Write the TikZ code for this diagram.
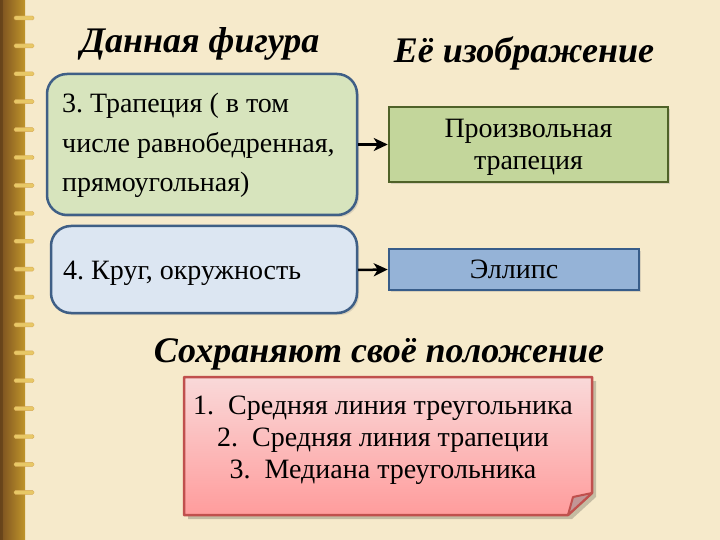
\documentclass[tikz,border=0pt]{standalone}
\usepackage{fontspec}
\setmainfont{Liberation Serif}
\newfontfamily\tnr{Liberation Serif}
\frenchspacing
\usetikzlibrary{arrows.meta,shadows}
\definecolor{bg}{HTML}{F6EACB}
\definecolor{spine}{HTML}{B07A35}
\definecolor{spinedark}{HTML}{7A5020}
\definecolor{ringc}{HTML}{E8C866}
\definecolor{boxAfill}{HTML}{D7E4BD}
\definecolor{boxBfill}{HTML}{DCE6F2}
\definecolor{rborder}{HTML}{3F5F86}
\definecolor{gfill}{HTML}{C3D69B}
\definecolor{gborder}{HTML}{4F6228}
\definecolor{bfill}{HTML}{95B3D7}
\definecolor{bborder}{HTML}{385D8A}
\definecolor{ptop}{HTML}{F9D9D9}
\definecolor{pbot}{HTML}{FF9C9C}
\definecolor{pborder}{HTML}{C0504D}
\tikzset{
  title/.style={font=\tnr\fontsize{36}{40}\selectfont\bfseries\itshape, inner sep=0pt},
  roundbox/.style={draw=rborder, line width=2.5pt, rounded corners=20pt, drop shadow={opacity=0.25, shadow xshift=2pt, shadow yshift=-2pt}},
  body/.style={font=\tnr\fontsize{28}{34}\selectfont, inner sep=0pt},
  flat/.style={line width=2.5pt, drop shadow={opacity=0.25, shadow xshift=2pt, shadow yshift=-2pt}},
  arr/.style={-{Stealth[length=14pt,width=13pt,inset=4pt]}, line width=2.5pt, black},
  ringst/.style={fill=ringc, draw=ringc!60!brown, line width=0.4pt, rounded corners=1.5pt}
}
\begin{document}
\begin{tikzpicture}[x=1pt,y=-1pt]
\useasboundingbox (0,0) rectangle (720,540);
\fill[bg] (0,0) rectangle (720,540);
% spine
\shade[left color=spinedark, right color=spine!80!yellow] (0,0) rectangle (25,540);
\fill[spinedark!70!black, opacity=0.5] (0,0) rectangle (3,540);
\foreach \i in {0,...,17}{
  \pgfmathsetmacro{\yy}{18+\i*27.9}
  \fill[ringst] (14,\yy-2) rectangle (34,\yy+2);
}
% titles
\node[title] (t1) at (200,44) {Данная фигура};
\node[title] (t2) at (524,53) {Её изображение};
\node[title] (t3) at (379,354) {Сохраняют своё положение};
% left boxes
\draw[roundbox, fill=boxAfill] (47,74) rectangle (357,215);
\node[body, anchor=west] (a1) at (62,105.5) {3. Трапеция ( в том};
\node[body, anchor=west] (a2) at (62,145.5) {числе равнобедренная,};
\node[body, anchor=west] (a3) at (62,184.5) {прямоугольная)};
\draw[roundbox, fill=boxBfill] (51,226) rectangle (357,313);
\node[body, anchor=west] (b1) at (63,273) {4. Круг, окружность};
\coordinate (aE) at (358,144.5);
\coordinate (bE) at (358,270);
% right boxes
\node[flat, draw=gborder, fill=gfill, minimum width=279pt, minimum height=75pt, inner sep=0pt] (g) at (528.5,144.5) {};
\node[align=center, font=\tnr\fontsize{28}{32}\selectfont, inner sep=0pt] (gt) at (528.5,147.5) {Произвольная\\трапеция};
\node[flat, draw=bborder, fill=bfill, minimum width=250pt, minimum height=41pt, font=\tnr\fontsize{28}{32}\selectfont, inner sep=0pt] (e) at (514,269.5) {Эллипс};
\draw[arr] (aE) -- (g.west);
\draw[arr] (bE) -- (e.west);
% pink note
\fill[black, opacity=0.2] (188,381) -- (596,381) -- (596,497) -- (572,519) -- (188,519) -- cycle;
\shade[top color=ptop, bottom color=pbot] (184,377) -- (592,377) -- (592,493) -- (568,515) -- (184,515) -- cycle;
\draw[pborder, line width=2.5pt, line join=round] (184,377) -- (592,377) -- (592,493) -- (568,515) -- (184,515) -- cycle;
\fill[pborder!45!gray!60!ptop, draw=pborder, line width=2pt, line join=round] (592,493) -- (568,515) -- (573,497) -- cycle;
\node[align=center, font=\tnr\fontsize{28}{32}\selectfont, inner sep=0pt] (p) at (383,440) {1.\ \ Средняя линия треугольника\\2.\ \ Средняя линия трапеции\\3.\ \ Медиана треугольника};
\end{tikzpicture}
\end{document}
